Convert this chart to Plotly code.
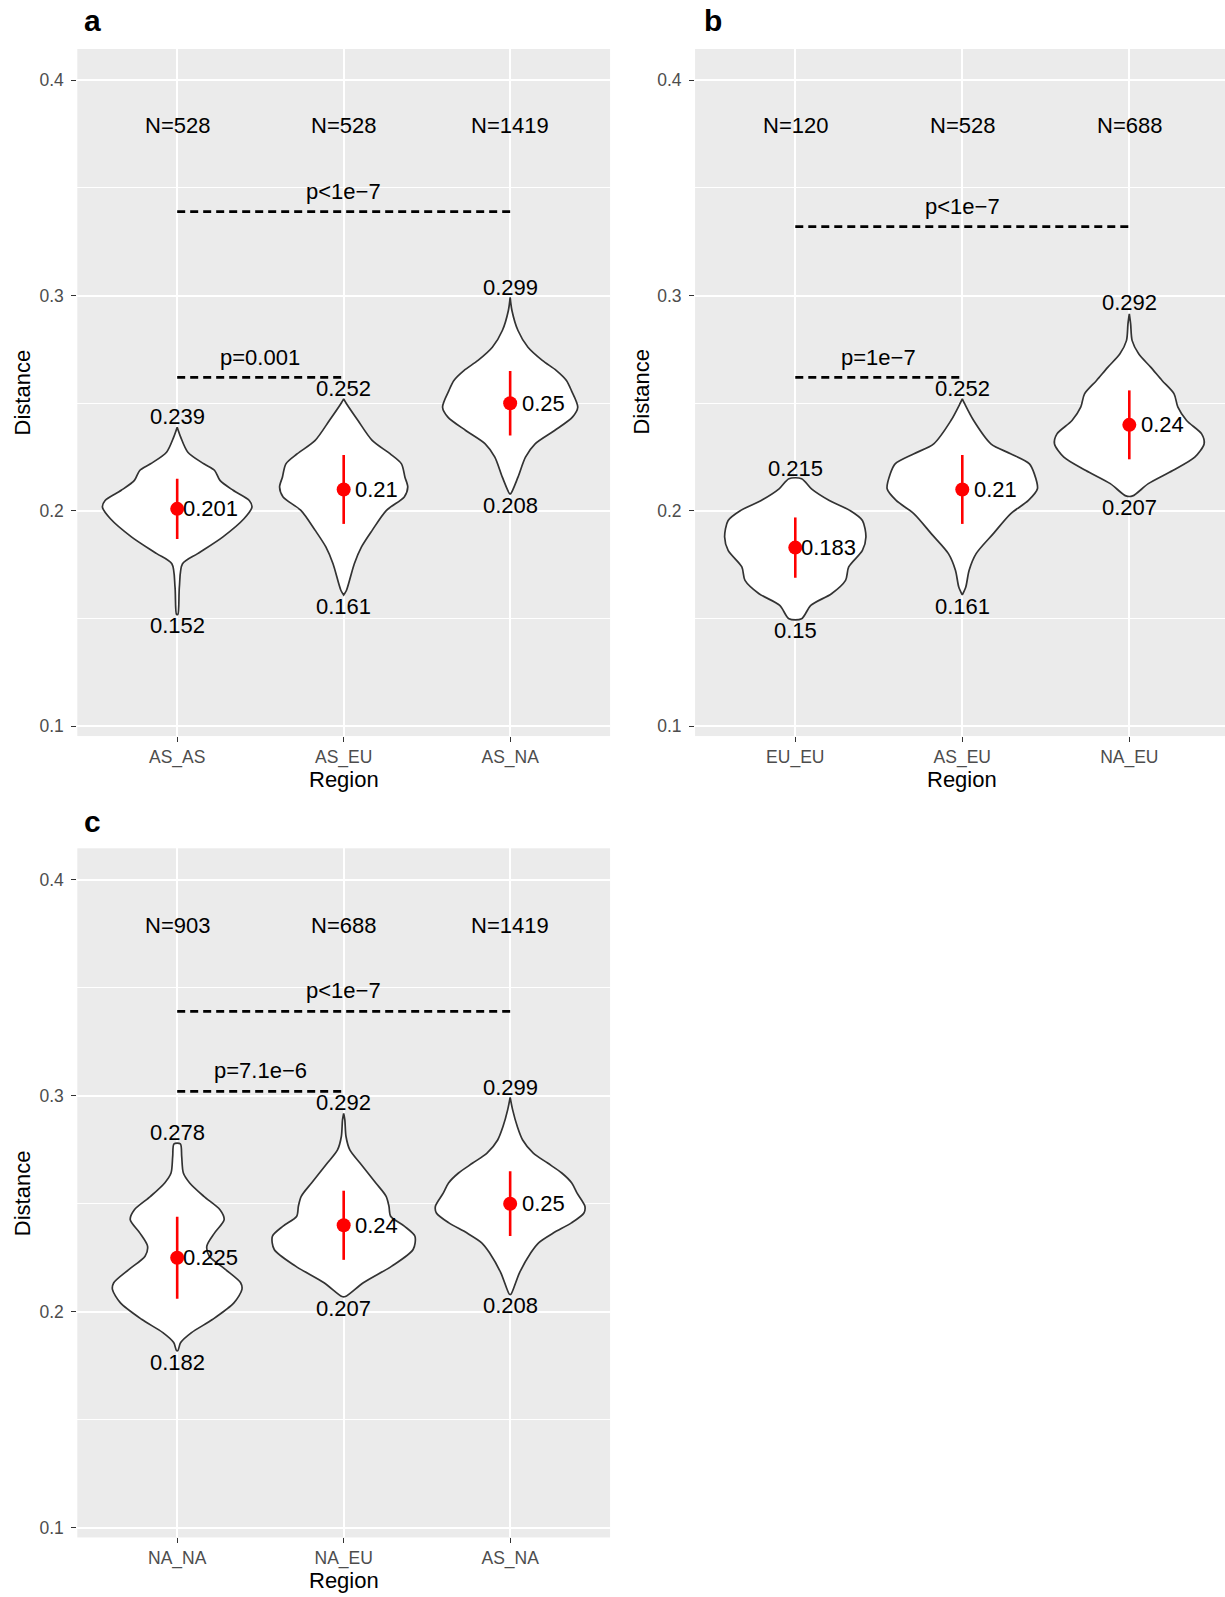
import plotly.graph_objects as go

# ---------------- data ----------------
cats_a = ["AS_AS", "AS_EU", "AS_NA"]
cats_b = ["EU_EU", "AS_EU", "NA_EU"]
cats_c = ["NA_NA", "NA_EU", "AS_NA"]

n_a = [528, 528, 1419]
n_b = [120, 528, 688]
n_c = [903, 688, 1419]

mean_a = [0.201, 0.21, 0.25]
mean_b = [0.183, 0.21, 0.24]
mean_c = [0.225, 0.24, 0.25]

min_a = [0.152, 0.161, 0.208]
max_a = [0.239, 0.252, 0.299]
min_b = [0.15, 0.161, 0.207]
max_b = [0.215, 0.252, 0.292]
min_c = [0.182, 0.207, 0.208]
max_c = [0.278, 0.292, 0.299]

lo_a = [0.187, 0.194, 0.235]
hi_a = [0.215, 0.226, 0.265]
lo_b = [0.169, 0.194, 0.224]
hi_b = [0.197, 0.226, 0.256]
lo_c = [0.206, 0.224, 0.235]
hi_c = [0.244, 0.256, 0.265]

p_text_a = ["p=0.001", "p&lt;1e\u22127"]
p_y_a = [0.262, 0.339]
p_text_b = ["p=1e\u22127", "p&lt;1e\u22127"]
p_y_b = [0.262, 0.332]
p_text_c = ["p=7.1e\u22126", "p&lt;1e\u22127"]
p_y_c = [0.302, 0.339]
p_end = [2, 3]  # comparison lines go from category 1 to these

n_label_y = 0.379

# violin density profiles: y values and half-widths (category units)
a1_y = [0.152, 0.1647, 0.1755, 0.1802, 0.1879, 0.1964, 0.2018, 0.2049, 0.2096, 0.2142, 0.2188, 0.2219, 0.2273, 0.2343, 0.2389]
a1_w = [0.004, 0.013, 0.032, 0.123, 0.273, 0.401, 0.449, 0.433, 0.336, 0.257, 0.225, 0.160, 0.064, 0.021, 0.0]
a2_y = [0.161, 0.1632, 0.1755, 0.1833, 0.1910, 0.2003, 0.2065, 0.2111, 0.2157, 0.2219, 0.2266, 0.2328, 0.2420, 0.2498, 0.2521]
a2_w = [0.0, 0.017, 0.064, 0.107, 0.171, 0.257, 0.364, 0.385, 0.368, 0.347, 0.278, 0.171, 0.086, 0.017, 0.0]
a3_y = [0.208, 0.2157, 0.2250, 0.2312, 0.2374, 0.2436, 0.2482, 0.2559, 0.2606, 0.2652, 0.2699, 0.2760, 0.2838, 0.2930, 0.2992]
a3_w = [0.003, 0.047, 0.092, 0.150, 0.267, 0.374, 0.406, 0.368, 0.338, 0.278, 0.193, 0.107, 0.047, 0.011, 0.0]

b1_y = [0.150, 0.1562, 0.1616, 0.1678, 0.1740, 0.1817, 0.1879, 0.1956, 0.2003, 0.2049, 0.2103, 0.215]
b1_w = [0.038, 0.093, 0.217, 0.301, 0.320, 0.402, 0.423, 0.402, 0.326, 0.204, 0.097, 0.038]
b2_y = [0.161, 0.1647, 0.1725, 0.1802, 0.1895, 0.1987, 0.2049, 0.2103, 0.2173, 0.2219, 0.2266, 0.2312, 0.2420, 0.2498, 0.2521]
b2_w = [0.0, 0.021, 0.041, 0.083, 0.186, 0.289, 0.396, 0.450, 0.431, 0.402, 0.289, 0.171, 0.068, 0.014, 0.0]
b3_y = [0.207, 0.2127, 0.2188, 0.2250, 0.2312, 0.2358, 0.2420, 0.2482, 0.2544, 0.2606, 0.2668, 0.2730, 0.2791, 0.2869, 0.2915]
b3_w = [0.02, 0.114, 0.260, 0.392, 0.448, 0.433, 0.343, 0.291, 0.268, 0.196, 0.128, 0.056, 0.017, 0.008, 0.0]

c1_y = [0.182, 0.1857, 0.1903, 0.1965, 0.2042, 0.2103, 0.2134, 0.2196, 0.2257, 0.2303, 0.2365, 0.2426, 0.2472, 0.2534, 0.2596, 0.2642, 0.2719, 0.2777]
c1_w = [0.004, 0.021, 0.086, 0.214, 0.342, 0.389, 0.381, 0.289, 0.193, 0.178, 0.225, 0.282, 0.257, 0.160, 0.075, 0.037, 0.027, 0.019]
c2_y = [0.207, 0.2134, 0.2211, 0.2288, 0.2349, 0.2396, 0.2442, 0.2488, 0.2534, 0.2596, 0.2688, 0.2749, 0.2811, 0.2888, 0.2918]
c2_w = [0.01, 0.118, 0.289, 0.417, 0.428, 0.364, 0.282, 0.272, 0.255, 0.193, 0.098, 0.037, 0.014, 0.007, 0.0]
c3_y = [0.208, 0.2180, 0.2273, 0.2319, 0.2365, 0.2411, 0.2457, 0.2488, 0.2549, 0.2596, 0.2642, 0.2688, 0.2734, 0.2795, 0.2857, 0.2934, 0.2992]
c3_w = [0.004, 0.056, 0.124, 0.171, 0.261, 0.368, 0.443, 0.449, 0.402, 0.370, 0.310, 0.225, 0.139, 0.075, 0.043, 0.015, 0.0]

# ---------------- figure ----------------
FONT = "Liberation Sans"
TXT = 22
fig = go.Figure()

panels = [
    dict(xr="x", yr="y", cats=cats_a, n=n_a, mean=mean_a, mn=min_a, mx=max_a, lo=lo_a, hi=hi_a,
         pt=p_text_a, py=p_y_a, vy=[a1_y, a2_y, a3_y], vw=[a1_w, a2_w, a3_w]),
    dict(xr="x2", yr="y2", cats=cats_b, n=n_b, mean=mean_b, mn=min_b, mx=max_b, lo=lo_b, hi=hi_b,
         pt=p_text_b, py=p_y_b, vy=[b1_y, b2_y, b3_y], vw=[b1_w, b2_w, b3_w]),
    dict(xr="x3", yr="y3", cats=cats_c, n=n_c, mean=mean_c, mn=min_c, mx=max_c, lo=lo_c, hi=hi_c,
         pt=p_text_c, py=p_y_c, vy=[c1_y, c2_y, c3_y], vw=[c1_w, c2_w, c3_w]),
]

annotations = []
for p in panels:
    xr, yr = p["xr"], p["yr"]
    # violins
    for i in range(3):
        c = i + 1
        ys, ws = p["vy"][i], p["vw"][i]
        px = [c + w for w in ws] + [c - w for w in reversed(ws)]
        py = list(ys) + list(reversed(ys))
        px.append(px[0]); py.append(py[0])
        fig.add_trace(go.Scatter(x=px, y=py, xaxis=xr, yaxis=yr, mode="lines",
                                 line=dict(color="#333333", width=1.7, shape="spline", smoothing=0.8),
                                 fill="toself", fillcolor="white", hoverinfo="skip", showlegend=False))
    # error segments
    ex, ey = [], []
    for i in range(3):
        ex += [i + 1, i + 1, None]
        ey += [p["lo"][i], p["hi"][i], None]
    fig.add_trace(go.Scatter(x=ex, y=ey, xaxis=xr, yaxis=yr, mode="lines",
                             line=dict(color="#FF0000", width=2.6), showlegend=False, hoverinfo="skip"))
    fig.add_trace(go.Scatter(x=[1, 2, 3], y=p["mean"], xaxis=xr, yaxis=yr, mode="markers",
                             marker=dict(color="#FF0000", size=14), showlegend=False))
    # comparison lines
    for k in range(2):
        fig.add_trace(go.Scatter(x=[1, p_end[k]], y=[p["py"][k], p["py"][k]], xaxis=xr, yaxis=yr,
                                 mode="lines", line=dict(color="black", width=2.8, dash="8px,5px"),
                                 showlegend=False, hoverinfo="skip"))
        annotations.append(dict(x=(1 + p_end[k]) / 2, y=p["py"][k] + 0.0095, xref=xr, yref=yr,
                                text=p["pt"][k], showarrow=False, yanchor="middle",
                                font=dict(family=FONT, size=TXT, color="black")))
    for i in range(3):
        c = i + 1
        annotations.append(dict(x=c, y=n_label_y, xref=xr, yref=yr, text="N=%d" % p["n"][i],
                                showarrow=False, yanchor="middle", font=dict(family=FONT, size=TXT, color="black")))
        annotations.append(dict(x=c, y=p["mx"][i], xref=xr, yref=yr, text=str(p["mx"][i]), yshift=-4,
                                showarrow=False, yanchor="bottom", font=dict(family=FONT, size=TXT, color="black")))
        annotations.append(dict(x=c, y=p["mn"][i], xref=xr, yref=yr, text=str(p["mn"][i]), yshift=3,
                                showarrow=False, yanchor="top", font=dict(family=FONT, size=TXT, color="black")))
        annotations.append(dict(x=c + 0.2, y=p["mean"][i], xref=xr, yref=yr, text=str(p["mean"][i]),
                                showarrow=False, yanchor="middle", font=dict(family=FONT, size=TXT, color="black")))
    # axis titles
    annotations.append(dict(x=2, y=0, xref=xr, yref=yr + " domain", text="Region", showarrow=False,
                            yanchor="middle", yshift=-43, font=dict(family=FONT, size=22, color="black")))

# y titles
for xp, yp in [(0.0183, 0.7545), (0.5237, 0.7545), (0.0183, 0.2531)]:
    annotations.append(dict(x=xp, y=yp, xref="paper", yref="paper", text="Distance", textangle=-90,
                            showarrow=False, xanchor="center", yanchor="middle",
                            font=dict(family=FONT, size=22, color="black")))
# panel letters
for t, xp, yp in [("a", 0.0757, 0.9872), ("b", 0.5820, 0.9872), ("c", 0.0757, 0.4859)]:
    annotations.append(dict(x=xp, y=yp, xref="paper", yref="paper", text="<b>%s</b>" % t,
                            showarrow=False, xanchor="center", yanchor="middle",
                            font=dict(family=FONT, size=30, color="black")))


def xax(domain, anchor, cats, xmax=3.6):
    return dict(domain=domain, anchor=anchor, range=[0.4, xmax], tickvals=[1, 2, 3], ticktext=cats,
                showgrid=True, gridcolor="white", gridwidth=1.8, zeroline=False, showline=False,
                ticks="outside", ticklen=5, tickwidth=1.3, tickcolor="#333333",
                tickfont=dict(family=FONT, size=17.5, color="#4D4D4D"), fixedrange=True)


def yax(domain, anchor):
    return dict(domain=domain, anchor=anchor, range=[0.0955, 0.4145], tickvals=[0.1, 0.2, 0.3, 0.4],
                ticktext=["0.1", "0.2", "0.3", "0.4"], showgrid=True, gridcolor="white", gridwidth=1.8,
                zeroline=False, showline=False, ticks="outside", ticklen=5, tickwidth=1.3,
                tickcolor="#333333", ticklabelstandoff=4,
                tickfont=dict(family=FONT, size=17.5, color="#4D4D4D"),
                minor=dict(tickvals=[0.15, 0.25, 0.35], showgrid=True, gridcolor="white", gridwidth=0.9,
                           ticks=""), fixedrange=True)


fig.update_layout(
    width=1225, height=1597, margin=dict(l=0, r=0, t=0, b=0),
    paper_bgcolor="white", plot_bgcolor="#EBEBEB", showlegend=False,
    xaxis=xax([0.0631, 0.4980], "y", cats_a),
    yaxis=yax([0.5391, 0.9693], "x"),
    xaxis2=xax([0.5674, 1.0], "y2", cats_b, xmax=3.573),
    yaxis2=yax([0.5391, 0.9693], "x2"),
    xaxis3=xax([0.0631, 0.4980], "y3", cats_c),
    yaxis3=yax([0.0373, 0.4688], "x3"),
    annotations=annotations,
)

fig.write_html("out.html", config={"displayModeBar": False},
               post_script="document.body.style.margin='0';document.body.style.overflow='hidden';")
